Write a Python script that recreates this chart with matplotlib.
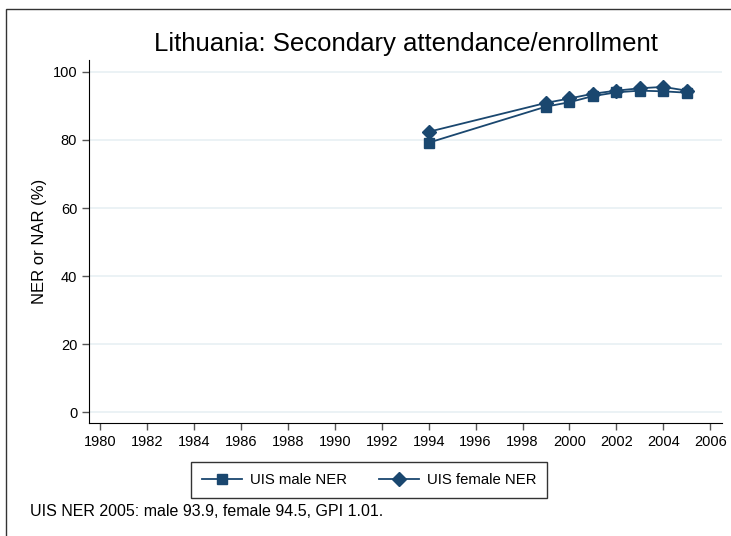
import matplotlib.pyplot as plt
from matplotlib.patches import Rectangle

plt.rcParams['font.family'] = ['Liberation Sans', 'DejaVu Sans']

years = [1994, 1999, 2000, 2001, 2002, 2003, 2004, 2005]
male = [79.2, 89.8, 91.1, 92.9, 94.0, 94.5, 94.3, 93.9]
female = [82.4, 90.9, 92.2, 93.6, 94.5, 95.2, 95.6, 94.5]
xticks = list(range(1980, 2007, 2))
yticks = [0, 20, 40, 60, 80, 100]

navy = '#1a476f'

fig = plt.figure(figsize=(7.31, 5.36), dpi=100)
ax = fig.add_axes([0.1218, 0.2108, 0.8659, 0.6772])

ax.plot(years, male, color=navy, lw=1.3, marker='s', ms=7, label='UIS male NER')
ax.plot(years, female, color=navy, lw=1.3, marker='D', ms=7, label='UIS female NER')

ax.set_xlim(1979.53, 2006.5)
ax.set_ylim(-3.2, 103.5)
ax.set_xticks(xticks)
ax.set_yticks(yticks)
ax.tick_params(labelsize=10.5, color='#555555', length=5, width=1)
ax.grid(axis='y', color='#e8f0f4', lw=1.2)
ax.set_axisbelow(True)
for s in ['top', 'right']:
    ax.spines[s].set_visible(False)

ax.set_ylabel('NER or NAR (%)', fontsize=12, labelpad=4)
fig.text(0.555, 0.918, 'Lithuania: Secondary attendance/enrollment',
         ha='center', va='center', fontsize=18.5)

leg = fig.legend(*ax.get_legend_handles_labels(), loc='center',
                 bbox_to_anchor=(0.505, 0.1045),
                 ncol=2, frameon=True, fancybox=False, edgecolor='black',
                 fontsize=10.7, handlelength=2.7, handletextpad=0.5,
                 columnspacing=2.2, borderpad=0.75)
leg.get_frame().set_linewidth(1)

fig.text(30 / 731, 1 - 512 / 536, 'UIS NER 2005: male 93.9, female 94.5, GPI 1.01.',
         ha='left', va='center', fontsize=11.5)

fig.patches.append(Rectangle((6 / 731, -0.1), 1.2, 1 - 9 / 536 + 0.1,
                             transform=fig.transFigure, fill=False,
                             edgecolor='#333333', lw=1))

fig.savefig('out.png', dpi=100)
